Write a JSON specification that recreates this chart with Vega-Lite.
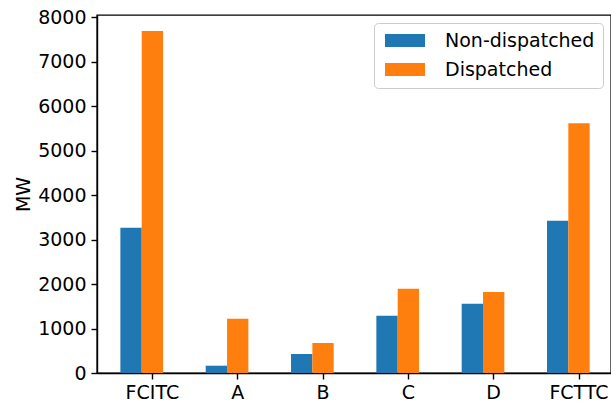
{
  "$schema": "https://vega.github.io/schema/vega-lite/v6.json",
  "width": 514,
  "height": 358,
  "autosize": {"type": "none"},
  "padding": {"left": 97, "top": 15, "right": 0, "bottom": 28},
  "background": "white",
  "config": {
    "font": "DejaVu Sans",
    "view": {"stroke": "black", "strokeWidth": 1.4}
  },
  "data": {
    "values": [
      {"region": "FCITC", "series": "Non-dispatched", "MW": 3265},
      {"region": "FCITC", "series": "Dispatched", "MW": 7692},
      {"region": "A", "series": "Non-dispatched", "MW": 164},
      {"region": "A", "series": "Dispatched", "MW": 1220},
      {"region": "B", "series": "Non-dispatched", "MW": 427},
      {"region": "B", "series": "Dispatched", "MW": 674},
      {"region": "C", "series": "Non-dispatched", "MW": 1288},
      {"region": "C", "series": "Dispatched", "MW": 1894},
      {"region": "D", "series": "Non-dispatched", "MW": 1557},
      {"region": "D", "series": "Dispatched", "MW": 1820},
      {"region": "FCTTC", "series": "Non-dispatched", "MW": 3422},
      {"region": "FCTTC", "series": "Dispatched", "MW": 5618}
    ]
  },
  "mark": {"type": "bar"},
  "encoding": {
    "x": {
      "field": "region",
      "type": "nominal",
      "sort": ["FCITC", "A", "B", "C", "D", "FCTTC"],
      "scale": {"paddingInner": 0.25, "paddingOuter": 0.137, "align": 1},
      "axis": {
        "title": null,
        "labelAngle": 0,
        "labelFontSize": 19,
        "labelColor": "black",
        "labelPadding": 4,
        "tickColor": "black",
        "tickSize": 6,
        "tickWidth": 1.4,
        "domainColor": "black",
        "domainWidth": 1.4,
        "grid": false
      }
    },
    "xOffset": {
      "field": "series",
      "type": "nominal",
      "scale": {"domain": ["Non-dispatched", "Dispatched", "spacer"], "paddingInner": 0, "paddingOuter": 0}
    },
    "y": {
      "field": "MW",
      "type": "quantitative",
      "scale": {"domain": [0, 8050], "nice": false},
      "axis": {
        "title": "MW",
        "titleFontSize": 19,
        "titleFontWeight": "normal",
        "titleColor": "black",
        "titlePadding": 4,
        "format": "d",
        "values": [0, 1000, 2000, 3000, 4000, 5000, 6000, 7000, 8000],
        "labelFontSize": 19,
        "labelColor": "black",
        "labelPadding": 5,
        "tickColor": "black",
        "tickSize": 6,
        "tickWidth": 1.4,
        "domainColor": "black",
        "domainWidth": 1.4,
        "grid": false
      }
    },
    "color": {
      "field": "series",
      "type": "nominal",
      "scale": {"domain": ["Non-dispatched", "Dispatched"], "range": ["#1f77b4", "#ff7f0e"]},
      "legend": {
        "title": null,
        "orient": "top-right",
        "offset": 8,
        "labelFontSize": 19,
        "labelColor": "black",
        "labelOffset": 44,
        "symbolType": "M-1,-1H5.154V1H-1Z",
        "symbolSize": 169,
        "symbolStrokeWidth": 0,
        "symbolOpacity": 1,
        "padding": 8,
        "rowPadding": 9,
        "fillColor": "white",
        "strokeColor": "#cccccc",
        "cornerRadius": 4
      }
    }
  }
}
